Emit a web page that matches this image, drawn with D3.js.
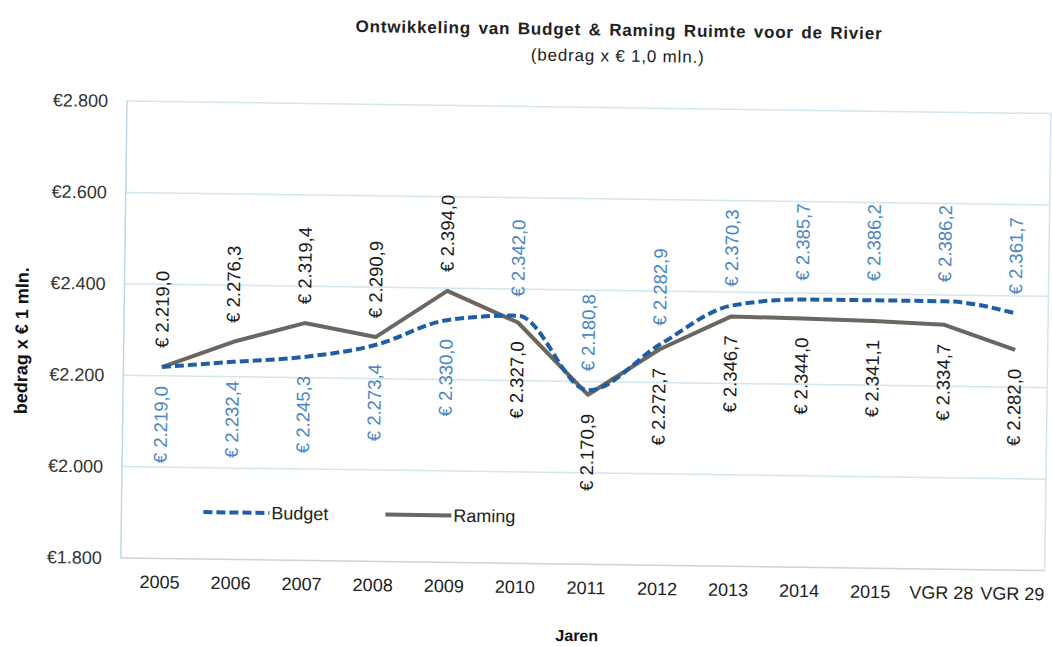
<!DOCTYPE html>
<html>
<head>
<meta charset="utf-8">
<script src="https://cdnjs.cloudflare.com/ajax/libs/d3/7.8.5/d3.min.js"></script>
<style>
    body { margin: 0; background: #fff; }
    svg { font-family: "Liberation Sans", Arial, sans-serif; }
</style>
</head>
<body>
<div class="chart"></div>
<script>
"use strict";

// chart data
var categories = ["2005", "2006", "2007", "2008", "2009", "2010", "2011", "2012", "2013", "2014", "2015", "VGR 28", "VGR 29"];
var budgetValues = [2219.0, 2232.4, 2245.3, 2273.4, 2330.0, 2342.0, 2180.8, 2282.9, 2370.3, 2385.7, 2386.2, 2386.2, 2361.7];
var ramingValues = [2219.0, 2276.3, 2319.4, 2290.9, 2394.0, 2327.0, 2170.9, 2272.7, 2346.7, 2344.0, 2341.1, 2334.7, 2282.0];
var yTickValues = [1800, 2000, 2200, 2400, 2600, 2800];
var seriesNames = ["Budget", "Raming"];

var chartTitle = "Ontwikkeling van Budget & Raming Ruimte voor de Rivier";
var chartSubtitle = "(bedrag x € 1,0 mln.)";
var yTitle = "bedrag x € 1 mln.";
var xTitle = "Jaren";

var LineChart = function()
{
    var self = this;

    var svgRoot;
    var svgContainer;
    var svgWidth = 1052;
    var svgHeight = 647;

    // plot area (the scanned original is tilted a little, so everything gets rotated)
    var plot = { left: 127, right: 1051, top: 101, bottom: 558 };
    var tilt = 0.78;

    var budgetColor = "#1f5ea6";
    var budgetLabelColor = "#4a86c3";
    var ramingColor = "#6b665f";
    var ramingLabelColor = "#1a1a1a";

    // distance between a point and its data label
    var labelGap = 19;

    var nl = d3.formatLocale({ decimal: ",", thousands: ".", grouping: [3], currency: ["€", ""] });
    var fmtLabel = nl.format(",.1f");
    var fmtTick = nl.format(",.0f");

    var x, y;

    self.createSVGs = function()
    {
        svgRoot = d3.select(".chart").append("svg")
                            .attr("width", svgWidth)
                            .attr("height", svgHeight);

        svgContainer = svgRoot.append("g")
                            .attr("transform", "rotate(" + tilt + "," + plot.left + "," + plot.top + ")");
    }

    self.createScales = function()
    {
        x = d3.scalePoint()
                .domain(categories)
                .range([plot.left + 3, plot.right + 3])
                .padding(0.5);

        y = d3.scaleLinear()
                .domain([1800, 2800])
                .range([plot.bottom, plot.top]);
    }

    self.createAxes = function()
    {
        // grid lines
        svgContainer.append("g")
                    .attr("class", "grid")
                    .selectAll("line")
                    .data(yTickValues)
                    .enter()
                    .append("line")
                    .attr("x1", plot.left)
                    .attr("x2", plot.right)
                    .attr("y1", function(d) { return y(d) })
                    .attr("y2", function(d) { return y(d) })
                    .attr("stroke", function(d) { return d == 1800 ? "#c9d3da" : "#d3e5ef" })
                    .attr("stroke-width", 1.5);

        // plot frame left / right
        svgContainer.append("line")
                    .attr("x1", plot.left).attr("x2", plot.left)
                    .attr("y1", plot.top).attr("y2", plot.bottom)
                    .attr("stroke", "#bcd8e8").attr("stroke-width", 1.5);

        svgContainer.append("line")
                    .attr("x1", plot.right).attr("x2", plot.right)
                    .attr("y1", plot.top).attr("y2", plot.bottom)
                    .attr("stroke", "#d3e5ef").attr("stroke-width", 1.5);

        var yAxis = d3.axisLeft(y)
                        .tickValues(yTickValues)
                        .tickSize(0)
                        .tickPadding(19)
                        .tickFormat(function(d) { return "€" + fmtTick(d) });

        svgContainer.append("g")
                    .attr("class", "yAxis")
                    .attr("transform", "translate(" + plot.left + ",0)")
                    .call(yAxis)
                    .call(function(g) { g.select(".domain").remove() })
                    .selectAll("text")
                    .attr("font-size", "18px")
                    .attr("font-family", "Liberation Sans, Arial, sans-serif")
                    .attr("fill", "#333");

        var xAxis = d3.axisBottom(x)
                        .tickSize(0)
                        .tickPadding(17);

        svgContainer.append("g")
                    .attr("class", "xAxis")
                    .attr("transform", "translate(0," + plot.bottom + ")")
                    .call(xAxis)
                    .call(function(g) { g.select(".domain").remove() })
                    .selectAll("text")
                    .attr("font-size", "18px")
                    .attr("font-family", "Liberation Sans, Arial, sans-serif")
                    .attr("fill", "#222");

        // titles
        svgContainer.append("text")
                    .attr("x", 618).attr("y", 29)
                    .attr("text-anchor", "middle")
                    .attr("font-size", "17px")
                    .attr("font-weight", "bold")
                    .attr("letter-spacing", "0.8px")
                    .attr("word-spacing", "2px")
                    .attr("fill", "#222")
                    .text(chartTitle);

        svgContainer.append("text")
                    .attr("x", 617).attr("y", 55)
                    .attr("text-anchor", "middle")
                    .attr("font-size", "17px")
                    .attr("letter-spacing", "0.8px")
                    .attr("fill", "#222")
                    .text(chartSubtitle);

        svgContainer.append("text")
                    .attr("transform", "translate(31,342) rotate(-90)")
                    .attr("text-anchor", "middle")
                    .attr("font-size", "18px")
                    .attr("font-weight", "bold")
                    .attr("fill", "#111")
                    .text(yTitle);

        svgContainer.append("text")
                    .attr("x", 584).attr("y", 635)
                    .attr("text-anchor", "middle")
                    .attr("font-size", "16px")
                    .attr("font-weight", "bold")
                    .attr("fill", "#111")
                    .text(xTitle);
    }

    self.createLines = function()
    {
        var budgetLine = d3.line()
                            .x(function(d, i) { return x(categories[i]) })
                            .y(function(d) { return y(d) })
                            .curve(d3.curveMonotoneX);

        var ramingLine = d3.line()
                            .x(function(d, i) { return x(categories[i]) })
                            .y(function(d) { return y(d) });

        svgContainer.append("path")
                    .datum(ramingValues)
                    .attr("d", ramingLine)
                    .attr("fill", "none")
                    .attr("stroke", ramingColor)
                    .attr("stroke-width", 4)
                    .attr("stroke-linejoin", "round");

        svgContainer.append("path")
                    .datum(budgetValues)
                    .attr("d", budgetLine)
                    .attr("fill", "none")
                    .attr("stroke", budgetColor)
                    .attr("stroke-width", 4)
                    .attr("stroke-dasharray", "9,4");
    }

    self.createLabels = function()
    {
        // the larger value of the two series gets its label above the line
        var labelData = [];
        for (var i = 0; i < categories.length; i++)
        {
            var ramingAbove = ramingValues[i] >= budgetValues[i];
            labelData.push({ cat: categories[i], value: ramingValues[i], above: ramingAbove, color: ramingLabelColor });
            labelData.push({ cat: categories[i], value: budgetValues[i], above: !ramingAbove, color: budgetLabelColor });
        }

        svgContainer.selectAll(".dataLabel")
                    .data(labelData)
                    .enter()
                    .append("text")
                    .attr("class", "dataLabel")
                    .attr("transform", function(d)
                    {
                        var py = y(d.value) + (d.above ? -labelGap : labelGap);
                        return "translate(" + (x(d.cat) + 6) + "," + py + ") rotate(-90)";
                    })
                    .attr("text-anchor", function(d) { return d.above ? "start" : "end" })
                    .attr("font-size", "18.5px")
                    .attr("fill", function(d) { return d.color })
                    .text(function(d) { return "€ " + fmtLabel(d.value) });
    }

    self.createLegend = function()
    {
        var legendX = [209, 391];
        var legend = svgContainer.selectAll(".legendItem")
                    .data(seriesNames)
                    .enter()
                    .append("g")
                    .attr("class", "legendItem")
                    .attr("transform", function(d, i) { return "translate(" + legendX[i] + ",511)" });

        legend.append("line")
                .attr("x1", 0).attr("x2", 66)
                .attr("stroke", function(d, i) { return i == 0 ? budgetColor : ramingColor })
                .attr("stroke-width", 4)
                .attr("stroke-dasharray", function(d, i) { return i == 0 ? "9,4" : null });

        legend.append("text")
                .attr("x", 68)
                .attr("dy", "0.35em")
                .attr("font-size", "18px")
                .attr("fill", "#222")
                .text(function(d) { return d });
    }

    self.draw = function()
    {
        self.createSVGs();
        self.createScales();
        self.createAxes();
        self.createLines();
        self.createLabels();
        self.createLegend();
    }

    return self;
}

new LineChart().draw();
</script>
</body>
</html>
